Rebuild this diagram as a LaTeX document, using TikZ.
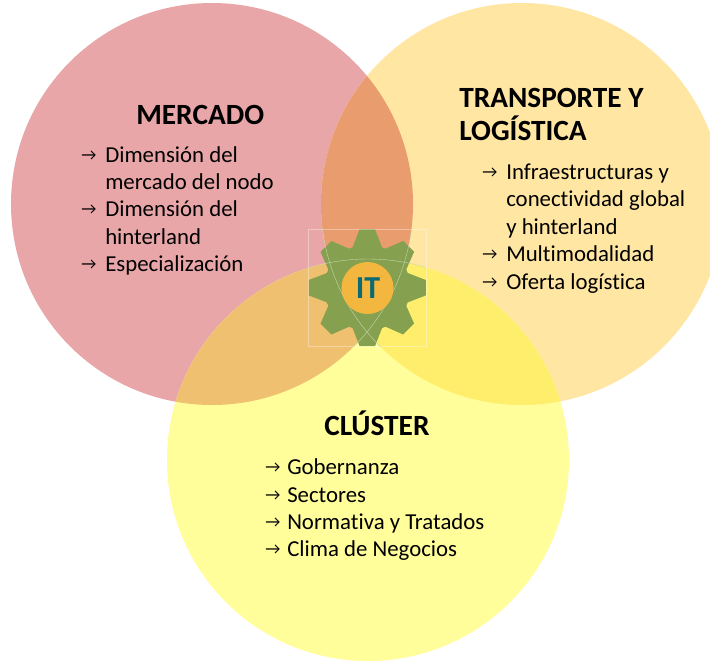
\documentclass[tikz,border=0pt]{standalone}
\usepackage{fontspec}
\setmainfont{Carlito}[Ligatures=NoCommon]
\definecolor{cred}{HTML}{E9A6A8}
\definecolor{corange}{HTML}{FFE6A3}
\definecolor{cyellow}{HTML}{FFFE9B}
\definecolor{cro}{HTML}{E99C6E}
\definecolor{cry}{HTML}{EEC06F}
\definecolor{coy}{HTML}{FFEE6C}
\definecolor{cgear}{HTML}{85A14F}
\definecolor{chub}{HTML}{F3B63F}
\definecolor{cit}{HTML}{0B6A74}
\tikzset{
  x=0.75pt,y=-0.75pt,
  heading/.style={font=\fontsize{22}{26}\selectfont\bfseries,inner sep=0pt,anchor=base west},
  item/.style={font=\fontsize{17.1}{20}\selectfont,inner sep=0pt,anchor=base west},
  arrowmark/.style={font=\fontsize{12.5}{14}\selectfont,inner sep=0pt,anchor=base west,yshift=0.8pt},
  faint/.style={draw=white!55!cgear,line width=0.3pt},
  frame/.style={draw=white,opacity=0.35,line width=0.4pt}
}
\def\redc{(212,204) circle [radius=201]}
\def\orac{(522,204) circle [radius=201]}
\def\yelc{(368,460) circle [radius=201]}
\begin{document}
\begin{tikzpicture}
\useasboundingbox (0,0) rectangle (710,661);
\fill[white] (0,0) rectangle (710,661);
\clip (0,0) rectangle (710,661);
\fill[cred] \redc;
\fill[corange] \orac;
\fill[cyellow] \yelc;
\begin{scope}\clip \redc; \fill[cro] \orac; \end{scope}
\begin{scope}\clip \redc; \fill[cry] \yelc; \end{scope}
\begin{scope}\clip \orac; \fill[coy] \yelc; \end{scope}
\begin{scope}\clip \redc; \clip \orac; \fill[cgear] \yelc; \end{scope}
% gear
\begin{scope}[shift={(367.3,287.7)}]
\fill[cgear] (-7.5:59)
  \foreach \a in {0,45,...,315} { -- ({\a-7.5}:{59}) -- ({\a+7.5}:{59}) -- ({\a+20}:{43}) -- ({\a+25}:{43}) } -- cycle;
\end{scope}
% faint frame and arcs
\draw[frame] (308.5,229) rectangle (426,346);
\begin{scope}
\clip (308,229) rectangle (426,346);
\draw[faint] \redc;
\draw[faint] \orac;
\draw[faint] \yelc;
\end{scope}
\node[circle,fill=chub,minimum size=39pt,inner sep=0pt] (hub) at (367.5,288) {};
\node[font=\fontsize{24}{28}\selectfont\bfseries,text=cit,inner sep=0pt] (it) at (368,288) {IT};
% Mercado
\node[heading] (m0) at (136,124) {MERCADO};
\node[arrowmark] (m1a) at (81,162) {→};
\node[item] (m1) at (105,162) {Dimensión del};
\node[item] (m2) at (105,189) {mercado del nodo};
\node[arrowmark] (m3a) at (81,216) {→};
\node[item] (m3) at (105,216) {Dimensión del};
\node[item] (m4) at (105,244) {hinterland};
\node[arrowmark] (m5a) at (81,271) {→};
\node[item] (m5) at (105,271) {Especialización};
% Transporte
\node[heading] (t0) at (459,107) {TRANSPORTE Y};
\node[heading] (t1) at (459,140) {LOGÍSTICA};
\node[arrowmark] (t2a) at (482,179) {→};
\node[item] (t2) at (506,179) {Infraestructuras y};
\node[item] (t3) at (506,206) {conectividad global};
\node[item] (t4) at (506,234) {y hinterland};
\node[arrowmark] (t5a) at (482,261) {→};
\node[item] (t5) at (506,261) {Multimodalidad};
\node[arrowmark] (t6a) at (482,289) {→};
\node[item] (t6) at (506,289) {Oferta logística};
% Cluster
\node[heading] (c0) at (324,435) {CLÚSTER};
\node[arrowmark] (c1a) at (265,474) {→};
\node[item] (c1) at (287,474) {Gobernanza};
\node[arrowmark] (c2a) at (265,502) {→};
\node[item] (c2) at (287,502) {Sectores};
\node[arrowmark] (c3a) at (265,529) {→};
\node[item] (c3) at (287,529) {Normativa y Tratados};
\node[arrowmark] (c4a) at (265,556) {→};
\node[item] (c4) at (287,556) {Clima de Negocios};
\end{tikzpicture}
\end{document}
